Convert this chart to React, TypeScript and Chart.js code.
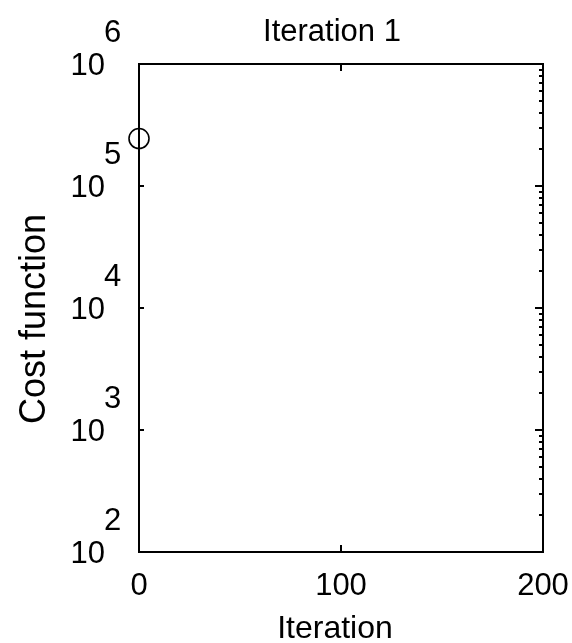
import React, { useEffect, useRef } from "react";
import { Chart, registerables } from "chart.js";

Chart.register(...registerables);

const titleText = "Iteration 1";
const xAxisLabel = "Iteration";
const yAxisLabel = "Cost function";
const iterations = [0];
const costValues = [245000];
const xTickValues = [0, 100, 200];
const yTickExponents = [2, 3, 4, 5, 6];
const minorMultipliers = [2, 3, 4, 5, 6, 7, 8, 9];

const FONT = "'Liberation Sans', Arial, sans-serif";
const INK = "#000";

const framePlugin = {
  id: "frame",
  beforeDatasetsDraw(chart: any) {
    const { ctx, chartArea } = chart;
    const { left, right, top, bottom } = chartArea;
    const xs = chart.scales.x;
    const ys = chart.scales.y;
    ctx.save();
    ctx.strokeStyle = INK;
    ctx.lineWidth = 2;
    ctx.strokeRect(left, top, right - left, bottom - top);
    ctx.beginPath();
    // x ticks (inward, bottom and top)
    xTickValues.forEach((v) => {
      const px = Math.round(xs.getPixelForValue(v));
      ctx.moveTo(px, bottom);
      ctx.lineTo(px, bottom - 7);
      ctx.moveTo(px, top);
      ctx.lineTo(px, top + 7);
    });
    // y major ticks
    yTickExponents.forEach((e) => {
      const py = Math.round(ys.getPixelForValue(Math.pow(10, e)));
      ctx.moveTo(left, py);
      ctx.lineTo(left + 5, py);
      ctx.moveTo(right, py);
      ctx.lineTo(right - 8, py);
    });
    ctx.stroke();
    // y minor ticks on the right side
    ctx.beginPath();
    ctx.lineWidth = 2;
    yTickExponents.slice(0, -1).forEach((e) => {
      minorMultipliers.forEach((m) => {
        const py = Math.round(ys.getPixelForValue(m * Math.pow(10, e)));
        ctx.moveTo(right, py);
        ctx.lineTo(right - 4, py);
      });
    });
    ctx.stroke();
    ctx.restore();
  },
  afterDraw(chart: any) {
    const { ctx, chartArea } = chart;
    const xs = chart.scales.x;
    const ys = chart.scales.y;
    ctx.save();
    ctx.fillStyle = INK;
    ctx.textBaseline = "alphabetic";
    // title
    ctx.font = `31px ${FONT}`;
    ctx.textAlign = "center";
    ctx.fillText(titleText, 332, 41);
    // x tick labels
    ctx.font = `31px ${FONT}`;
    xTickValues.forEach((v) => {
      const px = xs.getPixelForValue(v);
      ctx.textAlign = "center";
      ctx.fillText(String(v), px, 595);
    });
    // y tick labels: 10 with superscript exponent
    yTickExponents.forEach((e) => {
      const py = ys.getPixelForValue(Math.pow(10, e));
      ctx.textAlign = "right";
      ctx.fillText("10", 105, py + 11);
      ctx.textAlign = "left";
      ctx.fillText(String(e), 104, py - 22);
    });
    // x axis label
    ctx.font = `32px ${FONT}`;
    ctx.textAlign = "center";
    ctx.fillText(xAxisLabel, 335, 638);
    // y axis label
    ctx.font = `36px ${FONT}`;
    ctx.translate(45, 319);
    ctx.rotate(-Math.PI / 2);
    ctx.textAlign = "center";
    ctx.fillText(yAxisLabel, 0, 0);
    ctx.restore();
  },
};

export default function App() {
  const canvasRef = useRef<HTMLCanvasElement | null>(null);

  useEffect(() => {
    if (!canvasRef.current) return;
    const chart = new Chart(canvasRef.current, {
      type: "scatter",
      data: {
        datasets: [
          {
            data: iterations.map((x, i) => ({ x, y: costValues[i] })),
            pointStyle: "circle",
            pointRadius: 10,
            pointBorderWidth: 1.6,
            pointBorderColor: INK,
            pointBackgroundColor: "rgba(0,0,0,0)",
            showLine: false,
            clip: false,
          } as any,
        ],
      },
      options: {
        responsive: false,
        animation: false,
        devicePixelRatio: 1,
        events: [],
        layout: { padding: { top: 64, right: 29, left: 0, bottom: 0 } },
        plugins: {
          legend: { display: false },
          tooltip: { enabled: false },
          title: { display: false },
        },
        scales: {
          x: {
            type: "linear",
            min: 0,
            max: 200,
            grid: { display: false },
            border: { display: false },
            ticks: { display: false },
            afterFit: (s: any) => {
              s.height = 91;
            },
          },
          y: {
            type: "logarithmic",
            min: 100,
            max: 1000000,
            grid: { display: false },
            border: { display: false },
            ticks: { display: false },
            afterFit: (s: any) => {
              s.width = 139;
            },
          },
        },
      },
      plugins: [framePlugin],
    });
    return () => chart.destroy();
  }, []);

  return (
    <div style={{ position: "fixed", left: 0, top: 0, width: 572, height: 643, background: "#fff" }}>
      <canvas ref={canvasRef} width={572} height={643} style={{ width: 572, height: 643, display: "block" }} />
    </div>
  );
}
